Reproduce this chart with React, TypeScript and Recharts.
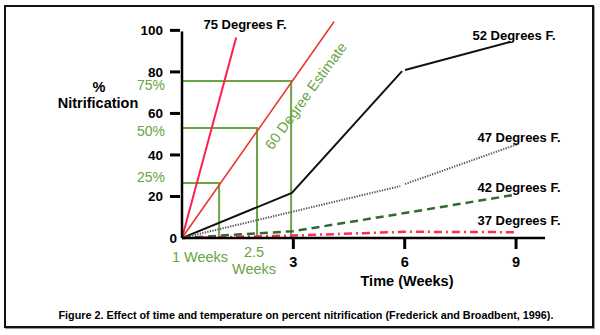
import React from 'react';
import { LineChart, Line, XAxis, YAxis, ReferenceLine } from 'recharts';

// weeks (w) vs percent nitrification (p)
const deg75 = [
  { w: 0, p: 0 },
  { w: 1.46, p: 96.6 },
];
const deg60 = [
  { w: 0, p: 0 },
  { w: 4.1, p: 104.3 },
];
const deg52a = [
  { w: 0, p: 0 },
  { w: 2.96, p: 21.7 },
  { w: 5.93, p: 80.4 },
];
const deg52b = [
  { w: 6.01, p: 80.9 },
  { w: 8.84, p: 94.4 },
];
const deg47a = [
  { w: 0, p: 0 },
  { w: 5.88, p: 25 },
];
const deg47b = [
  { w: 6.01, p: 26 },
  { w: 9.06, p: 45.3 },
];
const deg42 = [
  { w: 0, p: 0 },
  { w: 3, p: 3.3 },
  { w: 6, p: 12 },
  { w: 8.92, p: 20.7 },
];
const deg37 = [
  { w: 0, p: 0 },
  { w: 3, p: 1.2 },
  { w: 6, p: 3 },
  { w: 8.95, p: 2.8 },
];

// green estimate guides (25%, 50%, 75%)
const guide25 = [
  { w: 0, p: 26.5 },
  { w: 1.0, p: 26.5 },
  { w: 1.0, p: 0 },
];
const guide50 = [
  { w: 0, p: 53 },
  { w: 2.02, p: 53 },
  { w: 2.02, p: 0 },
];
const guide75 = [
  { w: 0, p: 75.6 },
  { w: 2.94, p: 75.6 },
  { w: 2.94, p: 0 },
];

const yTicks = [0, 20, 40, 60, 80, 100];
const xTicks = [3, 6, 9];

const FONT = '"Liberation Sans", Arial, Helvetica, sans-serif';
const GREEN = '#6aa443';

function YTick({ x, y, payload }: any) {
  const v = payload.value;
  return (
    <g>
      {v !== 0 && <line x1={x - 12} x2={x - 2} y1={y} y2={y} stroke="#000" strokeWidth={3} />}
      <text
        x={v === 0 ? x - 5 : x - 19}
        y={y}
        dy="0.36em"
        textAnchor="end"
        fontFamily={FONT}
        fontWeight="bold"
        fontSize={13.5}
        fill="#000"
      >
        {v}
      </text>
    </g>
  );
}

function XTick({ x, y, payload }: any) {
  return (
    <g>
      <line x1={x} x2={x} y1={y + 1} y2={y + 11} stroke="#000" strokeWidth={3} />
      <text
        x={x}
        y={y + 24}
        dy="0.36em"
        textAnchor="middle"
        fontFamily={FONT}
        fontWeight="bold"
        fontSize={14.5}
        fill="#000"
      >
        {payload.value}
      </text>
    </g>
  );
}

function Txt({ x, y, children, color = '#000', size = 13, bold = true, rotate = 0 }: any) {
  return (
    <div
      style={{
        position: 'absolute',
        left: x,
        top: y,
        transform: `translate(-50%, -50%) rotate(${rotate}deg)`,
        fontFamily: FONT,
        fontSize: size,
        fontWeight: bold ? 'bold' : 'normal',
        color,
        whiteSpace: 'nowrap',
        lineHeight: 1,
      }}
    >
      {children}
    </div>
  );
}

const seriesProps = { type: 'linear' as const, dataKey: 'p', dot: false, activeDot: false, isAnimationActive: false };

export default function App() {
  return (
    <div style={{ position: 'absolute', left: 0, top: 0, width: 600, height: 335, background: '#fff' }}>
      <LineChart width={600} height={335} margin={{ top: 20, right: 55, bottom: 67, left: 122 }}>
        <XAxis
          dataKey="w"
          type="number"
          domain={[0, 9.78]}
          ticks={xTicks}
          allowDataOverflow
          height={30}
          tickSize={0}
          tickMargin={0}
          tickLine={false}
          axisLine={{ stroke: '#000', strokeWidth: 2.5 }}
          tick={<XTick />}
        />
        <YAxis
          type="number"
          domain={[0, 105]}
          ticks={yTicks}
          width={60}
          tickSize={0}
          tickMargin={0}
          tickLine={false}
          axisLine={false}
          tick={<YTick />}
        />
        <Line data={guide25} {...seriesProps} stroke={GREEN} strokeWidth={2} />
        <Line data={guide50} {...seriesProps} stroke={GREEN} strokeWidth={2} />
        <Line data={guide75} {...seriesProps} stroke={GREEN} strokeWidth={2} />
        <Line data={deg75} {...seriesProps} stroke="#ff1f4f" strokeWidth={2} />
        <Line data={deg60} {...seriesProps} stroke="#e83a2c" strokeWidth={1.6} />
        <Line data={deg52a} {...seriesProps} stroke="#111" strokeWidth={2} />
        <Line data={deg52b} {...seriesProps} stroke="#111" strokeWidth={2} />
        <Line data={deg47a} {...seriesProps} stroke="#555" strokeWidth={2} strokeDasharray="1.3 1.3" />
        <Line data={deg47b} {...seriesProps} stroke="#555" strokeWidth={2} strokeDasharray="1.3 1.3" />
        <Line data={deg42} {...seriesProps} stroke="#2f6b30" strokeWidth={2.5} strokeDasharray="8 5" />
        <Line data={deg37} {...seriesProps} stroke="#ff2d55" strokeWidth={2.5} strokeDasharray="8 4 2 4" />
        <ReferenceLine
          segment={[
            { x: 0, y: 0 },
            { x: 0, y: 99.5 },
          ]}
          stroke="#000"
          strokeWidth={2.5}
        />
      </LineChart>

      <Txt x={245} y={24}>75 Degrees F.</Txt>
      <Txt x={514} y={35}>52 Degrees F.</Txt>
      <Txt x={519} y={137}>47 Degrees F.</Txt>
      <Txt x={519} y={187}>42 Degrees F.</Txt>
      <Txt x={519} y={220}>37 Degrees F.</Txt>

      <Txt x={99} y={87} size={14.5}>%</Txt>
      <Txt x={98} y={103} size={14.5}>Nitrification</Txt>

      <Txt x={151} y={85} size={14} bold={false} color={GREEN}>75%</Txt>
      <Txt x={151} y={131} size={14} bold={false} color={GREEN}>50%</Txt>
      <Txt x={151} y={177} size={14} bold={false} color={GREEN}>25%</Txt>
      <Txt x={200} y={257} size={14.5} bold={false} color={GREEN}>1 Weeks</Txt>
      <Txt x={254} y={252} size={14.5} bold={false} color={GREEN}>2.5</Txt>
      <Txt x={254} y={269} size={14.5} bold={false} color={GREEN}>Weeks</Txt>
      <Txt x={306} y={96} size={14.5} bold={false} color={GREEN} rotate={-54}>
        60 Degree Estimate
      </Txt>

      <Txt x={407} y={281} size={14.5}>Time (Weeks)</Txt>
      <Txt x={306} y={315} size={10.8}>
        Figure 2. Effect of time and temperature on percent nitrification (Frederick and Broadbent, 1996).
      </Txt>

      <div
        style={{
          position: 'absolute',
          left: 4,
          top: 5,
          width: 590,
          height: 323,
          boxSizing: 'border-box',
          border: '2.5px solid #111',
          boxShadow: '1px 1px 0 #999',
          pointerEvents: 'none',
        }}
      />
    </div>
  );
}
